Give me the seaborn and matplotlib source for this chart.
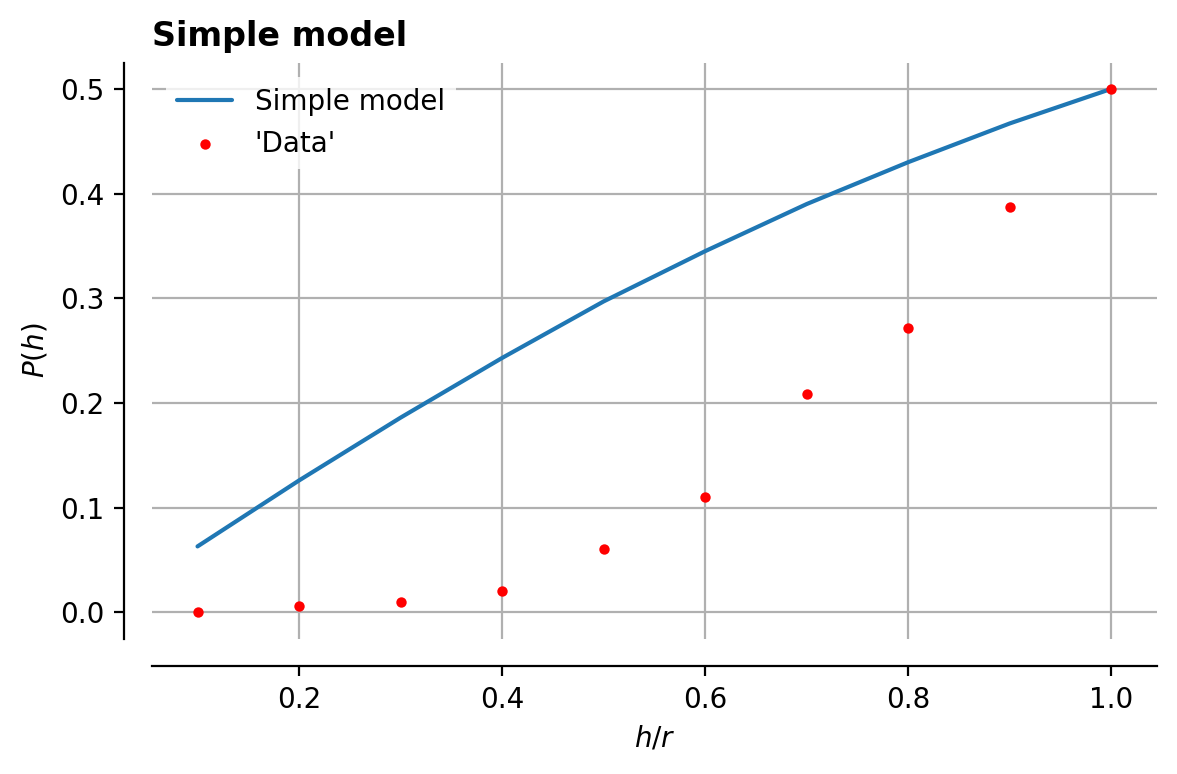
import numpy as np
import pandas as pd
import matplotlib
matplotlib.use("Agg")
import matplotlib.pyplot as plt
import seaborn as sns

# Values

h_r = [0.1, 0.2, 0.3, 0.4, 0.5, 0.6, 0.7, 0.8, 0.9, 1.0]

model_p = [0.063, 0.126, 0.186, 0.243, 0.297, 0.345, 0.390, 0.430, 0.467, 0.500]

data_p = [0.000, 0.006, 0.0095, 0.020, 0.061, 0.110, 0.209, 0.272, 0.387, 0.500]

df = pd.DataFrame({"h_r": h_r, "model": model_p, "data": data_p})

sns.set_style("ticks", {"text.color": "black", "axes.labelcolor": "black",
                        "xtick.color": "black", "ytick.color": "black",
                        "axes.edgecolor": "black"})

fig, ax = plt.subplots(figsize=(5.885, 3.87), dpi=200)
fig.subplots_adjust(left=0.129, right=0.983, top=0.919, bottom=0.175)

sns.lineplot(data=df, x="h_r", y="model", ax=ax, color="#1f77b4",
             linewidth=1.5, label="Simple model")

sns.scatterplot(data=df, x="h_r", y="data", ax=ax, color="red",
                s=14, linewidth=0, label="'Data'", zorder=3)

ax.grid(True, color="#b0b0b0", linewidth=0.8)
ax.set_axisbelow(True)

ax.set_xlabel("$h/r$")
ax.set_ylabel("$P(h)$")
ax.set_title("Simple model", loc="left", fontweight="bold", fontsize=12,
             color="black")

ax.legend(loc="upper left", frameon=True, edgecolor="none",
          facecolor="white", framealpha=0.8)

sns.despine(ax=ax, offset=10)

plt.savefig("out.png", dpi=200)
